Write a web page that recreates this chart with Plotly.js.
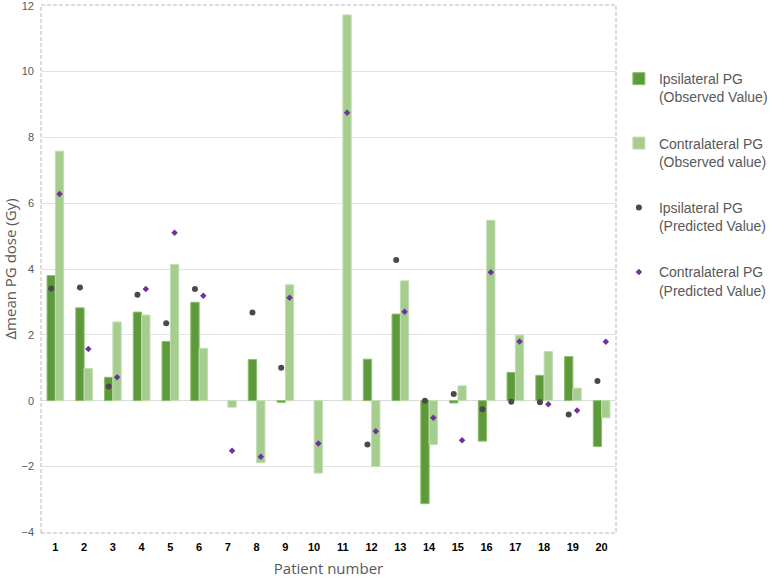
<!DOCTYPE html>
<html>
<head>
<meta charset="utf-8">
<script src="https://cdn.plot.ly/plotly-3.0.1.min.js"></script>
<style>html,body{margin:0;padding:0;background:#fff;}#chart{width:778px;height:578px;}</style>
</head>
<body>
<div id="chart"></div>
<script>
const patients = ['1','2','3','4','5','6','7','8','9','10','11','12','13','14','15','16','17','18','19','20'];
const ipsiObserved = [3.80, 2.82, 0.71, 2.69, 1.80, 2.99, null, 1.25, -0.05, null, null, 1.26, 2.63, -3.13, -0.07, -1.23, 0.86, 0.77, 1.34, -1.39];
const contraObserved = [7.58, 0.98, 2.39, 2.60, 4.14, 1.59, -0.20, -1.88, 3.52, -2.20, 11.72, -2.00, 3.64, -1.33, 0.45, 5.48, 1.99, 1.49, 0.38, -0.52];
const ipsiPredicted = [3.41, 3.44, 0.43, 3.22, 2.35, 3.39, null, 2.68, 1.00, null, null, -1.33, 4.27, 0.00, 0.20, -0.26, -0.03, -0.05, -0.42, 0.60];
const contraPredicted = [6.28, 1.57, 0.71, 3.39, 5.10, 3.19, -1.52, -1.70, 3.13, -1.30, 8.75, -0.93, 2.70, -0.52, -1.20, 3.90, 1.80, -0.11, -0.30, 1.79];

const darkGreen = '#5e9a3c';
const lightGreen = '#a5cd8f';
const grayDot = '#4a4a4a';
const purple = '#7030a0';

const traces = [
  {type:'bar', name:'Ipsilateral PG<br>(Observed Value)', x:patients, y:ipsiObserved,
   marker:{color:darkGreen, line:{color:'#8cbf6c', width:1}}, legendgroup:'a'},
  {type:'bar', name:'Contralateral PG<br>(Observed value)', x:patients, y:contraObserved,
   marker:{color:lightGreen, line:{color:'#c2dfb0', width:1}}, legendgroup:'b'},
  {type:'scatter', mode:'markers', name:'Ipsilateral PG<br>(Predicted Value)', x:patients, y:ipsiPredicted,
   marker:{color:grayDot, size:6, symbol:'circle'}, legendgroup:'c'},
  {type:'scatter', mode:'markers', name:'Contralateral PG<br>(Predicted Value)', x:patients, y:contraPredicted,
   marker:{color:purple, size:5, symbol:'diamond'}, legendgroup:'d'}
];

const layout = {
  width:778, height:578,
  margin:{l:41, r:162, t:5, b:45},
  paper_bgcolor:'#ffffff', plot_bgcolor:'#ffffff',
  barmode:'group', bargap:0.42, bargroupgap:0,
  scattermode:'group', scattergap:0.42,
  showlegend:true,
  legend:{x:1.005, xanchor:'left', y:0.89, yanchor:'top', valign:'top',
    font:{family:'Liberation Sans, Arial, sans-serif', size:14, color:'#595959'},
    tracegroupgap:25, bgcolor:'rgba(0,0,0,0)', itemwidth:30},
  xaxis:{type:'category', showgrid:false, zeroline:false, showline:false,
    ticks:'', tickfont:{family:'Liberation Sans, Arial, sans-serif', size:11, color:'#000000', weight:'bold'},
    ticklabelstandoff:6,
    title:{text:'Patient number', font:{family:'Open Sans, Liberation Sans, sans-serif', size:15, color:'#595959'}, standoff:12}},
  yaxis:{range:[-4.02,12.02], tickvals:[-4,-2,0,2,4,6,8,10,12], showgrid:true, gridcolor:'#e3e3e3', gridwidth:1,
    zeroline:true, zerolinecolor:'#dcdcdc', zerolinewidth:1, showline:false, ticks:'',
    ticklabelstandoff:6, ticklabeloverflow:'allow',
    tickfont:{family:'Liberation Sans, Arial, sans-serif', size:11, color:'#4f5b66'},
    title:{text:'Δmean PG dose (Gy)', font:{family:'Open Sans, Liberation Sans, sans-serif', size:15, color:'#595959'}, standoff:6}},
  shapes:[{type:'rect', xref:'paper', yref:'paper', x0:0, x1:1, y0:0, y1:1,
    line:{color:'#b8b8b8', width:1, dash:'4px,2px'}, fillcolor:'rgba(0,0,0,0)', layer:'above'}]
};

Plotly.newPlot('chart', traces, layout, {displayModeBar:false, staticPlot:true});
</script>
</body>
</html>
